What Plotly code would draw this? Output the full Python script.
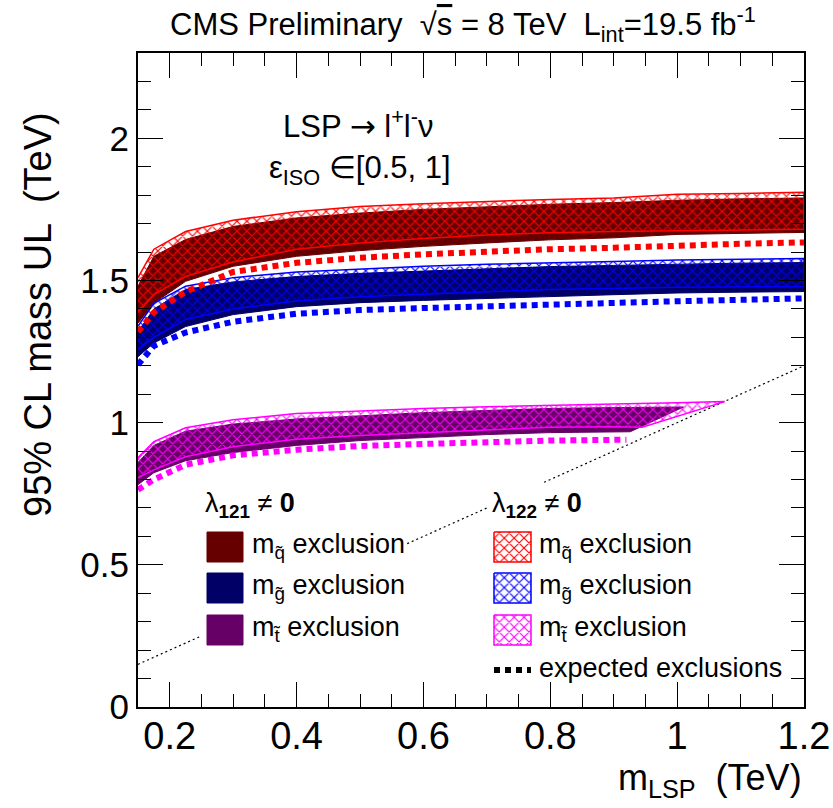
import plotly.graph_objects as go

# ---------------- data (TeV) ----------------
m_lsp = [0.15, 0.175, 0.225, 0.3, 0.4, 0.5, 0.6, 0.7, 0.8, 0.9, 1.0, 1.1, 1.2]

# squark, lambda121 (solid) and lambda122 (hatched)
sq121_hi = [1.48, 1.585, 1.644, 1.69, 1.72, 1.737, 1.75, 1.76, 1.768, 1.774, 1.782, 1.787, 1.79]
sq121_lo = [1.35, 1.42, 1.497, 1.55, 1.585, 1.605, 1.62, 1.632, 1.643, 1.65, 1.662, 1.666, 1.669]
sq122_hi = [1.51, 1.61, 1.672, 1.712, 1.742, 1.76, 1.77, 1.778, 1.785, 1.79, 1.803, 1.806, 1.81]
sq122_lo = [1.387, 1.45, 1.514, 1.565, 1.61, 1.632, 1.648, 1.66, 1.668, 1.672, 1.676, 1.678, 1.68]
sq_exp = [1.32, 1.387, 1.46, 1.53, 1.562, 1.58, 1.592, 1.602, 1.61, 1.615, 1.624, 1.629, 1.634]

# gluino
gl121_hi = [1.32, 1.40, 1.468, 1.495, 1.514, 1.525, 1.533, 1.541, 1.549, 1.553, 1.558, 1.561, 1.563]
gl121_lo = [1.232, 1.28, 1.338, 1.38, 1.408, 1.422, 1.43, 1.437, 1.444, 1.45, 1.456, 1.459, 1.461]
gl122_hi = [1.34, 1.42, 1.48, 1.51, 1.53, 1.54, 1.55, 1.557, 1.563, 1.567, 1.572, 1.575, 1.577]
gl122_lo = [1.257, 1.30, 1.363, 1.40, 1.428, 1.443, 1.452, 1.46, 1.468, 1.472, 1.476, 1.478, 1.479]
gl_exp = [1.204, 1.27, 1.317, 1.355, 1.383, 1.396, 1.403, 1.41, 1.415, 1.42, 1.427, 1.432, 1.437]

# stop (bands end at the kinematic limit)
st121_hi_x = [0.15, 0.175, 0.225, 0.3, 0.4, 0.5, 0.6, 0.7, 0.8, 0.9, 1.01]
st121_hi = [0.86, 0.92, 0.97, 0.995, 1.013, 1.025, 1.035, 1.043, 1.05, 1.053, 1.055]
st121_lo_x = [0.15, 0.175, 0.225, 0.3, 0.4, 0.5, 0.6, 0.7, 0.8, 0.926]
st121_lo = [0.782, 0.824, 0.866, 0.895, 0.92, 0.937, 0.948, 0.958, 0.965, 0.968]
st122_hi_x = [0.15, 0.175, 0.225, 0.3, 0.4, 0.5, 0.6, 0.7, 0.8, 0.9, 1.0, 1.075]
st122_hi = [0.877, 0.933, 0.982, 1.01, 1.032, 1.042, 1.05, 1.056, 1.062, 1.066, 1.07, 1.074]
st122_lo_x = [0.15, 0.175, 0.225, 0.3, 0.4, 0.5, 0.6, 0.7, 0.8, 0.9, 0.945]
st122_lo = [0.806, 0.834, 0.88, 0.915, 0.942, 0.955, 0.965, 0.975, 0.984, 0.986, 0.984]
st_exp_x = [0.15, 0.175, 0.225, 0.3, 0.4, 0.5, 0.6, 0.7, 0.8, 0.92]
st_exp = [0.764, 0.8, 0.852, 0.885, 0.905, 0.918, 0.925, 0.932, 0.937, 0.94]

# kinematic limit m_sparticle = m_LSP
diag_x = [0.15, 1.2]

x_ticks = [0.2, 0.4, 0.6, 0.8, 1.0, 1.2]
x_ticktext = ["0.2", "0.4", "0.6", "0.8", "1", "1.2"]
y_ticks = [0, 0.5, 1.0, 1.5, 2.0]
y_ticktext = ["0", "0.5", "1", "1.5", "2"]

# ---------------- styles ----------------
FONT = "Liberation Sans, Arial, Helvetica, sans-serif"
DARK = {"sq": "#660000", "gl": "#000066", "st": "#660066"}
LIGHT = {"sq": "#ff0000", "gl": "#0000ff", "st": "#ff00ff"}
DOT = "6px,5px"
HATCH = dict(shape="x", size=7, solidity=0.3, fillmode="replace")

fig = go.Figure()


def band(xh, yh, xl, yl):
    return list(xh) + list(reversed(xl)), list(yh) + list(reversed(yl))


def solid_band(xh, yh, xl, yl, key):
    bx, by = band(xh, yh, xl, yl)
    fig.add_trace(go.Scatter(x=bx, y=by, mode="lines", fill="toself",
                             fillcolor=DARK[key], line=dict(color=DARK[key], width=1),
                             hoverinfo="skip"))


def hatch_band(xh, yh, xl, yl, key):
    bx, by = band(xh, yh, xl, yl)
    fig.add_trace(go.Scatter(x=bx, y=by, mode="lines", fill="toself",
                             fillcolor=LIGHT[key],
                             fillpattern=dict(fgcolor=LIGHT[key], **HATCH),
                             line=dict(color=LIGHT[key], width=1.5),
                             hoverinfo="skip"))


# diagonal kinematic limit
fig.add_trace(go.Scatter(x=diag_x, y=diag_x, mode="lines",
                         line=dict(color="black", width=1.2, dash="2px,3px"), hoverinfo="skip"))

solid_band(m_lsp, sq121_hi, m_lsp, sq121_lo, "sq")
solid_band(m_lsp, gl121_hi, m_lsp, gl121_lo, "gl")
solid_band(st121_hi_x, st121_hi, st121_lo_x, st121_lo, "st")
hatch_band(m_lsp, sq122_hi, m_lsp, sq122_lo, "sq")
hatch_band(m_lsp, gl122_hi, m_lsp, gl122_lo, "gl")
hatch_band(st122_hi_x, st122_hi, st122_lo_x, st122_lo, "st")

for xs, ys, key in [(m_lsp, sq_exp, "sq"), (m_lsp, gl_exp, "gl"), (st_exp_x, st_exp, "st")]:
    fig.add_trace(go.Scatter(x=xs, y=ys, mode="lines",
                             line=dict(color=LIGHT[key], width=6, dash=DOT), hoverinfo="skip"))

# ---------------- legend (drawn in a pixel overlay frame) ----------------
PX_L, PX_R, PX_T, PX_B = 138, 804, 53, 707


def rect(x0, y0, x1, y1):
    return [x0, x1, x1, x0, x0], [y0, y0, y1, y1, y0]


# white legend boxes
for x0, y0, x1, y1 in [(200, 480, 405, 655), (487, 483, 800, 690)]:
    rx, ry = rect(x0, y0, x1, y1)
    fig.add_trace(go.Scatter(x=rx, y=ry, xaxis="x2", yaxis="y2", mode="lines", fill="toself",
                             fillcolor="white", line=dict(width=0, color="white"), hoverinfo="skip"))

rows_y = [532, 573, 615]
keys = ["sq", "gl", "st"]
for key, y0 in zip(keys, rows_y):
    rx, ry = rect(207, y0, 243, y0 + 30)
    fig.add_trace(go.Scatter(x=rx, y=ry, xaxis="x2", yaxis="y2", mode="lines", fill="toself",
                             fillcolor=DARK[key], line=dict(color=DARK[key], width=1), hoverinfo="skip"))
    rx, ry = rect(494, y0, 531, y0 + 30)
    fig.add_trace(go.Scatter(x=rx, y=ry, xaxis="x2", yaxis="y2", mode="lines", fill="toself",
                             fillcolor=LIGHT[key],
                             fillpattern=dict(fgcolor=LIGHT[key], **HATCH),
                             line=dict(color=LIGHT[key], width=1.5), hoverinfo="skip"))
fig.add_trace(go.Scatter(x=[494, 531], y=[670, 670], xaxis="x2", yaxis="y2", mode="lines",
                         line=dict(color="black", width=6, dash=DOT), hoverinfo="skip"))

labels = ["m<sub>q&#771;</sub> exclusion", "m<sub>g&#771;</sub> exclusion", "m<sub>t&#771;</sub> exclusion"]

ann = []


def text(px, py, s, size, xanchor="left", yanchor="middle", angle=0):
    # pixel position -> paper coordinates of the plot frame
    ann.append(dict(x=(px - PX_L) / (PX_R - PX_L), y=(PX_B - py) / (PX_B - PX_T),
                    xref="paper", yref="paper", text=s, showarrow=False,
                    xanchor=xanchor, yanchor=yanchor, textangle=angle,
                    font=dict(family=FONT, size=size, color="black")))


for s, y0 in zip(labels, rows_y):
    text(250, y0 + 14, s, 27)
    text(537, y0 + 14, s, 27)
text(537, 668, "expected exclusions", 27)
text(203, 505, "λ<sub><b>121</b></sub> ≠ <b>0</b>", 27)
text(490, 505, "λ<sub><b>122</b></sub> ≠ <b>0</b>", 27)

text(358, 124, "LSP <span style='font-family:DejaVu Sans'>→</span> l<sup>+</sup>l<sup>-</sup>ν", 31,
     xanchor="center")
text(360, 170, "ε<sub>ISO</sub> ∈[0.5, 1]", 31, xanchor="center")
text(463, 24, "CMS Preliminary  √<span style='text-decoration:overline'>s</span> = 8 TeV  L<sub>int</sub>=19.5 fb<sup>-1</sup>",
     31, xanchor="center")
text(804, 805, "m<sub>LSP</sub>  (TeV)", 36, xanchor="right", yanchor="bottom")
text(38, 315, "95% CL mass UL  (TeV)", 38, xanchor="center", angle=-90)

axis_common = dict(showgrid=False, zeroline=False, showline=True, linecolor="black", linewidth=2,
                   ticks="inside", ticklen=25, tickwidth=1.2, tickcolor="black", mirror="ticks",
                   automargin=False)

fig.update_layout(
    width=833, height=808,
    margin=dict(l=PX_L, r=833 - PX_R, t=PX_T, b=808 - PX_B, autoexpand=False),
    plot_bgcolor="white", paper_bgcolor="white", showlegend=False,
    font=dict(family=FONT, color="black"),
    annotations=ann,
    xaxis=dict(range=[0.15, 1.2], tickvals=x_ticks, ticktext=x_ticktext,
               tickfont=dict(family=FONT, size=38), ticklabelstandoff=-6,
               minor=dict(dtick=0.05, tick0=0, ticks="inside", ticklen=13, tickwidth=1.2, tickcolor="black"),
               **axis_common),
    yaxis=dict(range=[0, 2.3], tickvals=y_ticks, ticktext=y_ticktext,
               tickfont=dict(family=FONT, size=35), ticklabelstandoff=0,
               minor=dict(dtick=0.1, tick0=0, ticks="inside", ticklen=13, tickwidth=1.2, tickcolor="black"),
               **axis_common),
    xaxis2=dict(range=[PX_L, PX_R], overlaying="x", visible=False, fixedrange=True),
    yaxis2=dict(range=[PX_B, PX_T], overlaying="y", visible=False, fixedrange=True),
)

fig.write_html("out.html")
